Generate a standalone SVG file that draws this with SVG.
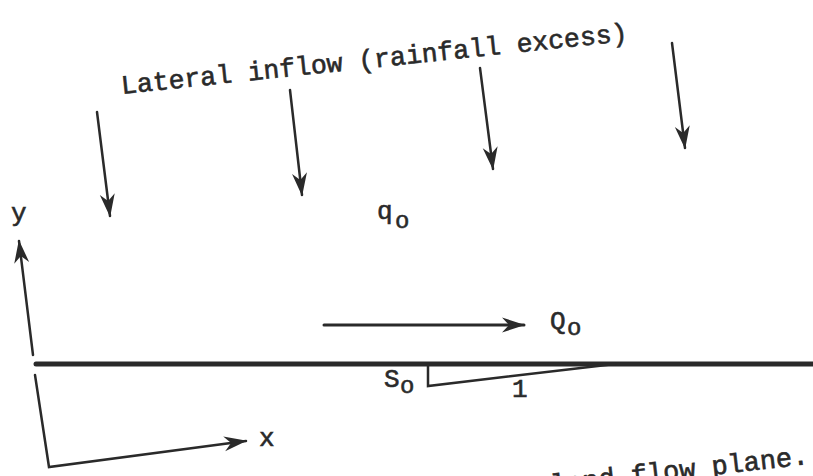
<svg xmlns="http://www.w3.org/2000/svg" width="813" height="476" viewBox="0 0 813 476">
<style>
.t{font-family:"Liberation Mono","Courier New",monospace;fill:#2a2a2a;stroke:#2a2a2a;stroke-width:0.6}
.ln{stroke:#2a2a2a;fill:none;stroke-linecap:round}
</style>
<defs>
<marker id="ah" markerUnits="userSpaceOnUse" markerWidth="28" markerHeight="18" viewBox="-24 -9 26 18" refX="0" refY="0" orient="auto">
<path d="M1,0 L-22,-7.5 L-15,0 L-22,7.5 Z" fill="#2a2a2a"/>
</marker>
</defs>
<rect width="813" height="476" fill="#ffffff"/>
<g id="connectors">
<line class="ln" x1="97" y1="112" x2="110" y2="216" stroke-width="2.5" marker-end="url(#ah)"/>
<line class="ln" x1="290" y1="90" x2="302" y2="195" stroke-width="2.5" marker-end="url(#ah)"/>
<line class="ln" x1="480" y1="68" x2="493" y2="169" stroke-width="2.5" marker-end="url(#ah)"/>
<line class="ln" x1="672" y1="43" x2="685" y2="148" stroke-width="2.5" marker-end="url(#ah)"/>
<line class="ln" x1="324" y1="325" x2="524" y2="325" stroke-width="3" marker-end="url(#ah)"/>
<line class="ln" x1="33" y1="355" x2="19" y2="241" stroke-width="2.5" marker-end="url(#ah)"/>
<polyline class="ln" points="35,375 49,467 246,441" stroke-width="2.5" marker-end="url(#ah)"/>
</g>
<g id="plane">
<line class="ln" x1="36" y1="364" x2="813" y2="364" stroke-width="5"/>
<polyline class="ln" points="428,364 428,386 615,364" stroke-width="2.5" stroke-linecap="butt" stroke-linejoin="miter"/>
</g>
<g id="title">
<text class="t" font-size="26.5" transform="translate(122,94) rotate(-6)">Lateral inflow (rainfall excess)</text>
</g>
<g id="label-q0">
<text class="t" x="377" y="219" font-size="26">q</text>
<text class="t" x="395" y="228" font-size="24">o</text>
</g>
<g id="label-Q0">
<text class="t" x="550" y="329" font-size="26">Q</text>
<text class="t" x="567" y="335" font-size="24">o</text>
</g>
<g id="label-y">
<text class="t" x="11" y="221" font-size="26">y</text>
</g>
<g id="label-x">
<text class="t" x="259" y="446" font-size="26">x</text>
</g>
<g id="label-S0">
<text class="t" x="384" y="387" font-size="26">S</text>
<text class="t" x="400" y="393" font-size="24">o</text>
</g>
<g id="label-1">
<text class="t" x="512" y="397" font-size="26">1</text>
</g>
<g id="caption">
<text class="t" font-size="27" text-anchor="end" transform="translate(809,464) rotate(-6.5)">land flow plane.</text>
</g>
</svg>
